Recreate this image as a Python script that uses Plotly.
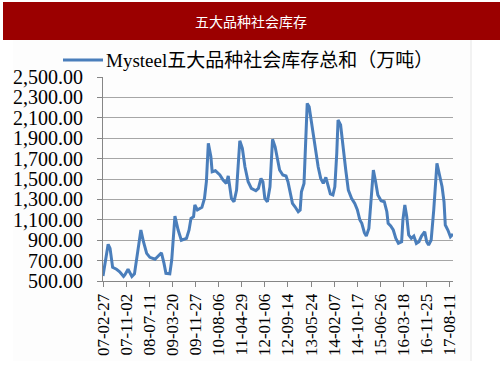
import plotly.graph_objects as go

# ---- data (week index from 2007-02-27, inventory in 10k tonnes) ----
week = [0, 8, 11, 15, 21, 26, 32, 34, 39, 45, 49, 52, 59, 63, 68, 73, 81, 86, 91, 95,
        98, 104, 107, 112, 117, 122, 130, 134, 137, 141, 143, 147, 154, 158, 161, 164, 168, 170, 175, 182,
        187, 192, 195, 200, 204, 208, 211, 213, 217, 221, 226, 231, 238, 242, 246, 249, 252, 256, 260, 264,
        268, 271, 275, 280, 285, 288, 292, 295, 299, 304, 307, 309, 313, 316, 318, 321, 324, 327, 331, 335,
        339, 343, 347, 351, 354, 358, 361, 364, 366, 370, 374, 378, 382, 387, 392, 396, 400, 403, 407, 410,
        414, 417, 421, 424, 428, 433, 438, 442, 444, 448, 452, 456, 460, 465, 467, 470, 473, 476, 480, 484,
        488, 492, 496, 501, 504, 507, 511, 515, 518, 520, 524, 528, 531, 533, 537, 541, 545]
inventory = [550, 860, 820, 634, 615, 591, 545, 560, 615, 545, 570, 706, 1000, 885, 771, 732, 713, 745, 777, 673,
             575, 570, 706, 1137, 1000, 900, 918, 1000, 1114, 1130, 1245, 1196, 1222, 1310, 1473, 1850, 1718, 1571, 1581, 1539,
             1490, 1457, 1530, 1310, 1277, 1392, 1718, 1875, 1800, 1620, 1473, 1408, 1385, 1408, 1506, 1473, 1310, 1277, 1424, 1890,
             1816, 1702, 1588, 1539, 1529, 1473, 1360, 1261, 1228, 1179, 1196, 1375, 1457, 1914, 2241, 2208, 2078, 1931, 1767, 1620,
             1506, 1457, 1516, 1424, 1353, 1343, 1424, 1751, 2078, 2029, 1784, 1588, 1392, 1310, 1261, 1200, 1098, 1065, 973, 941,
             1016, 1261, 1588, 1490, 1343, 1287, 1277, 1179, 1065, 1039, 1000, 918, 869, 885, 1098, 1245, 1130, 951, 918, 941,
             869, 885, 941, 983, 885, 853, 902, 1196, 1473, 1653, 1539, 1424, 1277, 1049, 1000, 934, 961]

tick_weeks = [0, 36, 72, 108, 144, 180, 216, 252, 288, 324, 360, 396, 432, 468, 504, 540]
tick_labels = ["07-02-27", "07-11-02", "08-07-11", "09-03-20", "09-11-27", "10-08-06", "11-04-29",
               "12-01-06", "12-09-14", "13-05-24", "14-02-07", "14-10-17", "15-06-26", "16-03-18",
               "16-11-25", "17-08-11"]
y_ticks = [500, 700, 900, 1100, 1300, 1500, 1700, 1900, 2100, 2300, 2500]

series_name = "Mysteel五大品种社会库存总和（万吨）"
title_text = "五大品种社会库存"

W, H = 503, 378
L, R, T, B = 103, 453, 77, 281  # plot area in pixels
pw, ph = R - L, B - T

def px(x):
    return (x - L) / pw

def py(y):
    return (B - y) / ph

serif = "Liberation Serif, 'Times New Roman', 'Noto Sans CJK SC', serif"

fig = go.Figure()
fig.add_trace(go.Scatter(
    x=week, y=inventory, mode="lines", name=series_name,
    line=dict(color="#4A7EBB", width=3), showlegend=False,
))

shapes = [
    # chart area background
    dict(type="rect", xref="paper", yref="paper", x0=px(13), x1=px(471), y0=py(361), y1=py(40),
         fillcolor="#FDFDFD", line=dict(width=0), layer="below"),
    dict(type="line", xref="paper", yref="paper", x0=px(471), x1=px(471), y0=py(361), y1=py(40),
         line=dict(color="#E6E6E6", width=1), layer="below"),
    # title bar
    dict(type="rect", xref="paper", yref="paper", x0=px(3), x1=px(500), y0=py(40), y1=py(2),
         fillcolor="#9B0000", line=dict(width=0), layer="above"),
    # legend sample line
    dict(type="line", xref="paper", yref="paper", x0=px(63), x1=px(103), y0=py(60), y1=py(60),
         line=dict(color="#4A7EBB", width=3)),
]

annotations = [
    dict(text=title_text, xref="paper", yref="paper", x=px(251), y=py(21), showarrow=False,
         xanchor="center", yanchor="middle",
         font=dict(family="'Noto Sans CJK SC', sans-serif", size=14, color="white")),
    dict(text=series_name, xref="paper", yref="paper", x=px(104), y=py(60), showarrow=False,
         xanchor="left", yanchor="middle",
         font=dict(family=serif, size=19, color="black")),
]

fig.update_layout(
    width=W, height=H,
    margin=dict(l=L, r=W - R, t=T, b=H - B, pad=0),
    paper_bgcolor="white", plot_bgcolor="rgba(0,0,0,0)",
    shapes=shapes, annotations=annotations,
    showlegend=False,
)
fig.update_xaxes(
    range=[0, 545], tickmode="array", tickvals=tick_weeks, ticktext=tick_labels,
    tickangle=-90, ticks="outside", ticklen=5, tickcolor="#868686",
    showline=True, linecolor="#868686", linewidth=1, showgrid=False, zeroline=False,
    tickfont=dict(family=serif, size=17, color="black"), automargin=False,
)
fig.update_yaxes(
    range=[500, 2500], tickmode="array", tickvals=y_ticks, tickformat=",.2f",
    ticks="outside", ticklen=5, tickcolor="#868686", ticklabelstandoff=10,
    showline=True, linecolor="#868686", linewidth=1,
    showgrid=True, gridcolor="#A6A6A6", gridwidth=1, zeroline=False,
    tickfont=dict(family=serif, size=20, color="black"), automargin=False,
)

fig.write_html("out.html", config={"displayModeBar": False},
               post_script="document.body.style.margin='0';document.body.style.overflow='hidden';")
